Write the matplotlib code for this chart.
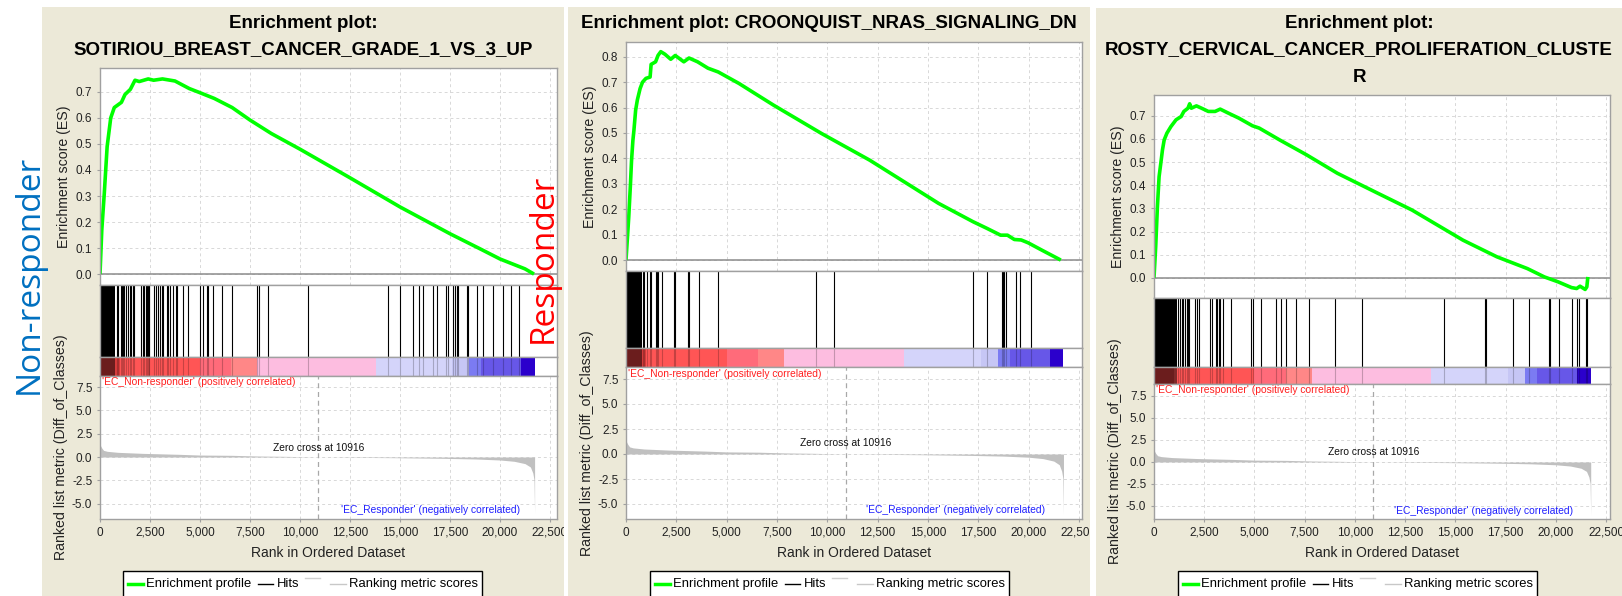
import matplotlib
matplotlib.use('Agg')
import matplotlib.pyplot as plt
from matplotlib.patches import Rectangle
from matplotlib.ticker import MultipleLocator, FuncFormatter
from matplotlib.transforms import Bbox, TransformedBbox, blended_transform_factory

plt.rcParams['font.family'] = ['Liberation Sans', 'DejaVu Sans']

W, H = 1622, 596

# ---------------- data ----------------
titles = [
    ['Enrichment plot:', 'SOTIRIOU_BREAST_CANCER_GRADE_1_VS_3_UP'],
    ['Enrichment plot: CROONQUIST_NRAS_SIGNALING_DN'],
    ['Enrichment plot:', 'ROSTY_CERVICAL_CANCER_PROLIFERATION_CLUSTE', 'R'],
]
label_pos = "'EC_Non-responder' (positively correlated)"
label_neg = "'EC_Responder' (negatively correlated)"
zero_cross = 10916

# ranked list metric (same dataset in all three panels)
metric_rank = [0, 90, 180, 360, 900, 2150, 3930, 5000, 6600, 7860, 9290, 10916,
               12860, 14640, 17140, 18750, 20000, 20710, 21250, 21520, 21640, 21700, 21730]
metric_val = [1.32, 0.96, 0.71, 0.61, 0.50, 0.39, 0.29, 0.21, 0.18, 0.11, 0.07, 0.0,
              -0.04, -0.07, -0.14, -0.21, -0.32, -0.46, -0.71, -1.07, -1.71, -2.43, -6.0]

# heat bar under the hits
bar_edges = [0, 1000, 5000, 6550, 7850, 13790, 17610, 18460, 19050, 21060, 21730]
bar_colors = ['#d83c3c', '#ff5555', '#ff6b7a', '#ff8787', '#fdbde0', '#d4d4fa',
              '#c6c6f5', '#7b7bf2', '#6757e8', '#2b00cc']

es1_rank = [0, 90, 214, 357, 536, 714, 1071, 1250, 1518, 1750, 1964, 2410, 2680, 3125,
            3750, 4464, 5000, 5714, 6607, 7500, 8571, 10000, 12500, 15000, 17500, 19107,
            20000, 21250, 21700]
es1_score = [0.0, 0.17, 0.31, 0.49, 0.60, 0.64, 0.66, 0.69, 0.71, 0.745, 0.74, 0.75, 0.745,
             0.75, 0.742, 0.713, 0.697, 0.675, 0.64, 0.592, 0.540, 0.480, 0.370, 0.258, 0.155,
             0.093, 0.058, 0.020, 0.0]
hit_block1 = (20, 750)
hits1 = [833, 917, 1033, 1100, 1167, 1217, 1300, 1417, 1500, 1533, 1667, 1717, 2033, 2133,
         2217, 2283, 2333, 2383, 2433, 2467, 2700, 2783, 2883, 3000, 3083, 3167, 3333, 3383,
         3500, 3633, 3800, 3867, 4167, 4383, 5000, 5167, 5367, 5417, 5667, 6083, 6583, 7867,
         7950, 8383, 10417, 14383, 15000, 15667, 15967, 16167, 16667, 16833, 17300, 17383,
         17667, 17750, 17833, 17917, 18333, 18417, 18833, 19133, 19667, 20167, 20533, 20967]

es2_rank = [0, 85, 137, 222, 274, 342, 393, 479, 564, 701, 821, 992, 1197, 1248, 1470, 1590,
            1727, 1932, 2223, 2445, 2873, 3130, 3557, 4070, 4583, 5609, 7319, 9713, 12107,
            13817, 15527, 17237, 17921, 18605, 18947, 19289, 19631, 19973, 20657, 21597]
es2_score = [0.0, 0.105, 0.17, 0.30, 0.39, 0.47, 0.51, 0.59, 0.63, 0.675, 0.70, 0.715, 0.72,
             0.77, 0.78, 0.805, 0.82, 0.81, 0.79, 0.805, 0.78, 0.795, 0.78, 0.755, 0.74,
             0.695, 0.61, 0.498, 0.393, 0.308, 0.223, 0.151, 0.125, 0.098, 0.098, 0.081,
             0.079, 0.068, 0.039, 0.0]
hit_block2 = (0, 780)
hits2 = [861, 911, 1026, 1192, 1242, 1474, 1523, 1606, 1772, 2384, 2434, 3096, 3146, 3626,
         4553, 9421, 10348, 17252, 17914, 18659, 18709, 18775, 18874, 19371, 19570, 20099]

es3_rank = [0, 84, 169, 253, 338, 422, 507, 642, 845, 1098, 1351, 1486, 1689, 1774, 1858,
            2111, 2365, 2703, 3041, 3294, 3716, 4223, 4899, 5236, 6250, 7601, 9122, 11149,
            12838, 15372, 17061, 18581, 19426, 20101, 20777, 21030, 21199, 21453, 21537, 21588]
es3_score = [0.0, 0.134, 0.307, 0.437, 0.495, 0.553, 0.596, 0.625, 0.654, 0.683, 0.697,
             0.719, 0.733, 0.752, 0.733, 0.743, 0.733, 0.719, 0.719, 0.729, 0.711, 0.690,
             0.657, 0.647, 0.596, 0.531, 0.452, 0.365, 0.293, 0.163, 0.091, 0.040, 0.004,
             -0.017, -0.042, -0.046, -0.036, -0.050, -0.039, 0.004]
hit_block3 = (0, 1160)
hits3 = [1209, 1291, 1374, 1457, 1540, 1623, 1705, 1755, 2036, 2119, 2252, 2781, 2864, 3079,
         3146, 3212, 3278, 3411, 3808, 4851, 4934, 5348, 6093, 6341, 6556, 7086, 7715, 8990,
         10364, 14454, 16474, 16523, 17881, 18642, 19636, 19719, 20166, 20795, 21026, 21126,
         21490, 21540]

es_curves = [(es1_rank, es1_score), (es2_rank, es2_score), (es3_rank, es3_score)]
hit_sets = [(hit_block1, hits1), (hit_block2, hits2), (hit_block3, hits3)]

# ---------------- layout (pixels, top-left origin) ----------------
layout = [
    dict(bg=(42, 7, 564), x=(100, 557), xmax=22850, rows=(68, 285, 357, 376, 519),
         title_y=(23, 50), es_lim=(-0.042, 0.792), met_lim=(-6.65, 8.69), leg_x=123),
    dict(bg=(568, 7, 1090), x=(626, 1082), xmax=22650, rows=(42, 271, 348, 367, 519),
         title_y=(23,), es_lim=(-0.043, 0.858), met_lim=(-6.5, 8.7), leg_x=650),
    dict(bg=(1096, 8, 1622), x=(1154, 1610), xmax=22690, rows=(95, 298, 367, 384, 519),
         title_y=(23, 50, 77), es_lim=(-0.087, 0.79), met_lim=(-6.48, 8.86), leg_x=1178),
]

BEIGE = '#ece9d8'
SPINE = '#a0a0a0'
GRID = '#d8d8d8'

fig = plt.figure(figsize=(W / 100, H / 100), dpi=100)
fig.patch.set_facecolor('white')


def px_axes(x0, y0, x1, y1, **kw):
    return fig.add_axes([x0 / W, 1 - y1 / H, (x1 - x0) / W, (y1 - y0) / H], **kw)


bg = px_axes(0, 0, W, H)
bg.set_xlim(0, W)
bg.set_ylim(H, 0)
bg.axis('off')
for lay in layout:
    x0, y0, x1 = lay['bg']
    bg.add_patch(Rectangle((x0, y0), x1 - x0, H - y0, facecolor=BEIGE, edgecolor='none'))


def style(ax, xmax):
    ax.set_facecolor('white')
    ax.set_xlim(0, xmax)
    for s in ax.spines.values():
        s.set_color(SPINE)
        s.set_linewidth(1)
    ax.tick_params(colors=SPINE, labelcolor='#222222', labelsize=8.5, length=2, width=0.8)


comma = FuncFormatter(lambda v, p: f'{int(v):,}')
one_dec = FuncFormatter(lambda v, p: f'{v:.1f}')

for i, lay in enumerate(layout):
    xl, xr = lay['x']
    r_es, r_hit, r_cb, r_met, r_bot = lay['rows']
    xmax = lay['xmax']
    xt = list(range(0, 22501, 2500))

    # enrichment score
    ax = px_axes(xl, r_es, xr, r_hit)
    style(ax, xmax)
    ax.set_ylim(*lay['es_lim'])
    ax.set_xticks(xt)
    ax.tick_params(axis='x', length=0, labelbottom=False)
    ax.yaxis.set_major_locator(MultipleLocator(0.1))
    ax.yaxis.set_major_formatter(one_dec)
    ax.grid(True, color=GRID, linestyle=(0, (3, 3)), linewidth=0.7)
    ax.set_axisbelow(True)
    ax.axhline(0, color='#8c8c8c', lw=1.1)
    r, s = es_curves[i]
    ax.plot(r, s, color='#00ff00', lw=2.6, solid_capstyle='butt', solid_joinstyle='round')

    # hits
    blk, hits = hit_sets[i]
    ax = px_axes(xl, r_hit, xr, r_cb)
    style(ax, xmax)
    ax.set_ylim(0, 1)
    ax.set_xticks([])
    ax.set_yticks([])
    ax.axvspan(blk[0], blk[1], color='black', lw=0)
    ax.vlines(hits, 0, 1, color='black', lw=0.8)

    # heat bar
    ax = px_axes(xl, r_cb, xr, r_met)
    style(ax, xmax)
    ax.set_ylim(0, 1)
    ax.set_xticks([])
    ax.set_yticks([])
    for k, c in enumerate(bar_colors):
        ax.axvspan(bar_edges[k], bar_edges[k + 1], color=c, lw=0)
    ax.axvspan(blk[0], blk[1], color='black', alpha=0.5, lw=0)
    ax.vlines(hits, 0, 1, color='black', lw=0.8, alpha=0.22)

    # ranked list metric
    ax = px_axes(xl, r_met, xr, r_bot)
    style(ax, xmax)
    ax.set_ylim(*lay['met_lim'])
    ax.set_xticks(xt)
    ax.xaxis.set_major_formatter(comma)
    ax.yaxis.set_major_locator(MultipleLocator(2.5))
    ax.yaxis.set_major_formatter(one_dec)
    ax.grid(True, color=GRID, linestyle=(0, (3, 3)), linewidth=0.7)
    ax.set_axisbelow(True)
    ax.fill_between(metric_rank, 0, metric_val, color='#c0c0c0', lw=0)
    ax.axvline(zero_cross, color='#a8a8a8', lw=0.9, ls=(0, (4, 3)))
    ax.text(0.005, 0.955, label_pos, transform=ax.transAxes, color='#ff2020',
            fontsize=7.4, ha='left', va='center')
    ax.text(0.92, 0.06, label_neg, transform=ax.transAxes, color='#2020ff',
            fontsize=7.4, ha='right', va='center')
    tr = blended_transform_factory(ax.transData, ax.transAxes)
    ax.text(zero_cross, 0.497, f'Zero cross at {zero_cross}', transform=tr,
            fontsize=7.4, ha='center', va='center', color='#111111')
    clip = TransformedBbox(Bbox.from_extents(lay['bg'][0] / W, 0, lay['bg'][2] / W, 1),
                           fig.transFigure)
    for t in ax.xaxis.get_major_ticks():
        t.label1.set_clip_box(clip)
        t.label1.set_clip_on(True)

ov = px_axes(0, 0, W, H)
ov.set_xlim(0, W)
ov.set_ylim(H, 0)
ov.axis('off')

for i, lay in enumerate(layout):
    x0, y0, x1 = lay['bg']
    xl, xr = lay['x']
    r_es, r_hit, r_cb, r_met, r_bot = lay['rows']
    cx = (x0 + x1) / 2
    for line, ty in zip(titles[i], lay['title_y']):
        ov.text(cx, ty, line, ha='center', va='center', fontsize=13.5,
                fontweight='bold', color='black')
    ov.text(xl - 36, (r_es + r_hit) / 2, 'Enrichment score (ES)', rotation=90,
            ha='center', va='center', fontsize=10.2, color='#222222')
    ov.text(xl - 39, (r_met + r_bot) / 2, 'Ranked list metric (Diff_of_Classes)',
            rotation=90, ha='center', va='center', fontsize=10.2, color='#222222')
    ov.text((xl + xr) / 2, 553, 'Rank in Ordered Dataset', ha='center', va='center',
            fontsize=10, color='#222222')

    # legend box, cut by the lower edge
    lx = lay['leg_x']
    ov.add_patch(Rectangle((lx, 571), 359, 40, facecolor='white', edgecolor='black',
                           lw=1, clip_on=False))
    ov.plot([lx + 5, lx + 20], [584, 584], color='#00ff00', lw=2.5)
    ov.text(lx + 23, 584, 'Enrichment profile', va='center', fontsize=9.4)
    ov.plot([lx + 135, lx + 150], [584, 584], color='black', lw=1)
    ov.text(lx + 154, 584, 'Hits', va='center', fontsize=9.4)
    ov.plot([lx + 182, lx + 197], [578, 578], color='#d0d0d0', lw=1)
    ov.plot([lx + 207, lx + 223], [584, 584], color='#c8c8c8', lw=1)
    ov.text(lx + 226, 584, 'Ranking metric scores', va='center', fontsize=9.4)

ov.text(29, 274, 'Non-responder', rotation=90, ha='center', va='center',
        fontsize=24, color='#0070c0', family=['Open Sans', 'DejaVu Sans'])
ov.text(543, 258, 'Responder', rotation=90, ha='center', va='center',
        fontsize=24, color='#ff0000', family=['Open Sans', 'DejaVu Sans'])

fig.savefig('out.png', dpi=100)
